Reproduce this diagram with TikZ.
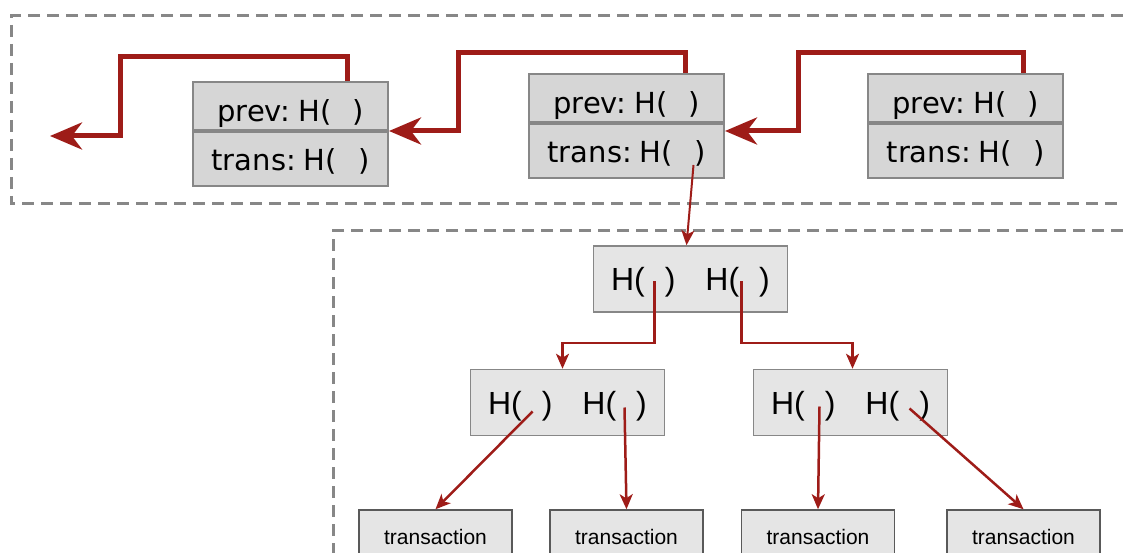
\documentclass[tikz,border=0pt]{standalone}
\usepackage{fontspec}
\setmainfont{DejaVu Sans}
\newfontfamily\treefont{Liberation Sans}
\usetikzlibrary{positioning,arrows.meta}
\definecolor{linkred}{RGB}{158,28,24}
\definecolor{blockgray}{RGB}{214,214,214}
\definecolor{treegray}{RGB}{229,229,229}
\definecolor{edgegray}{RGB}{135,135,135}
\newcommand\hptr{H(\hspace{20pt})}
\newcommand\hfield{H(\hspace{21pt})}

\begin{document}
\begin{tikzpicture}[x=1pt,y=-1pt,
    prevrow/.style={draw=edgegray,line width=2pt,fill=blockgray,inner sep=0pt,minimum width=195pt,minimum height=48pt,text height=40pt,text depth=8pt,font=\fontsize{29}{31}\selectfont},
    transrow/.style={prevrow,minimum height=54pt,text height=39pt,text depth=15pt},
    hashbox/.style={draw=edgegray,line width=1.5pt,fill=treegray,inner sep=0pt,minimum width=194pt,minimum height=66pt,text height=23pt,text depth=0pt,font=\treefont\fontsize{32}{34}\selectfont},
    txbox/.style={draw=black!65,line width=1.5pt,fill=treegray,inner sep=0pt,minimum width=153pt,minimum height=54pt,text height=15pt,text depth=0pt,font=\treefont\fontsize{21}{24}\selectfont},
    backlink/.style={linkred,line width=5pt,-{Stealth[length=32pt,width=27pt,inset=10pt]}},
    hashptr/.style={linkred,line width=2.5pt,-{Stealth[length=15pt,width=13pt,inset=4pt]}},
    zone/.style={edgegray,line width=3pt,dash pattern=on 12pt off 7pt}]
  \useasboundingbox (0,0) rectangle (1123,553);
  % the two dashed regions
  \draw[zone] (1123,16) -- (11,16) -- (11,204) -- (1123,204);
  \draw[zone] (1123,231) -- (333,231) -- (333,560);
  % blocks
  \node[prevrow] (b1p) at (290.5,106) {prev:\hspace{8pt}\hfield};
  \node[transrow,below=0pt of b1p] (b1t) {trans:\hspace{8pt}\hfield};
  \node[prevrow] (b2p) at (626.5,98) {prev:\hspace{8pt}\hfield};
  \node[transrow,below=0pt of b2p] (b2t) {trans:\hspace{8pt}\hfield};
  \node[prevrow] (b3p) at (965.5,98) {prev:\hspace{8pt}\hfield};
  \node[transrow,below=0pt of b3p] (b3t) {trans:\hspace{8pt}\hfield};
  \coordinate (tail) at (50,136);
  \draw[backlink] ([xshift=57pt]b1p.north) |- (120,57) |- (tail);
  \draw[backlink] ([xshift=59pt]b2p.north) |- (458,53) |- (b1t.north east);
  \draw[backlink] ([xshift=58pt]b3p.north) |- (798,53) |- ([yshift=-8pt]b2t.north east);
  % merkle tree
  \node[hashbox] (root) at (690.5,279) {\hptr\hspace{30pt}\hptr};
  \node[hashbox] (midl) at (567.5,402.5) {\hptr\hspace{30pt}\hptr};
  \node[hashbox] (midr) at (850.5,402.5) {\hptr\hspace{30pt}\hptr};
  \node[txbox] (tx1) at (435.5,537) {transaction};
  \node[txbox] (tx2) at (626.5,537) {transaction};
  \node[txbox] (tx3) at (818,537) {transaction};
  \node[txbox] (tx4) at (1023.5,537) {transaction};
  \draw[hashptr,line width=2pt] ([xshift=67pt,yshift=-14pt]b2t.center) -- ([xshift=-4pt]root.north);
  \draw[hashptr] ([xshift=-36pt,yshift=-2pt]root.center) -- ++(0,62) -| ([xshift=-5pt]midl.north);
  \draw[hashptr] ([xshift=51pt,yshift=-2pt]root.center) -- ++(0,62) -| ([xshift=2pt]midr.north);
  \draw[hashptr] ([xshift=-35pt,yshift=-9pt]midl.center) -- (tx1.north);
  \draw[hashptr] ([xshift=57pt,yshift=-5pt]midl.center) -- (tx2.north);
  \draw[hashptr] ([xshift=-31pt,yshift=-4pt]midr.center) -- (tx3.north);
  \draw[hashptr] ([xshift=59pt,yshift=-6pt]midr.center) -- (tx4.north);
\end{tikzpicture}
\end{document}
